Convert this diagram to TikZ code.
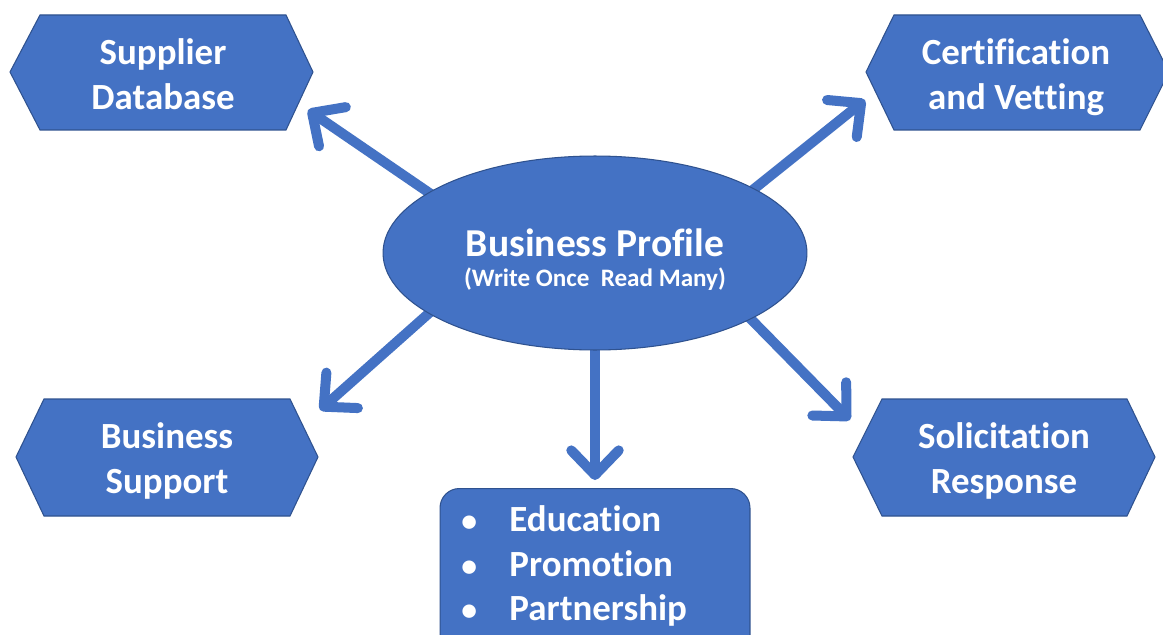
\documentclass[tikz,border=0pt]{standalone}
\usepackage{fontspec}
\setmainfont[Ligatures=NoCommon]{Carlito}
\usetikzlibrary{arrows.meta,shapes.geometric,calc}
\pgfdeclarelayer{paper}
\pgfdeclarelayer{bg}
\pgfsetlayers{paper,bg,main}
\definecolor{ofblue}{HTML}{4472C4}
\definecolor{ofedge}{HTML}{2F528F}
\begin{document}
\begin{tikzpicture}[x=0.02cm,y=-0.02cm,
  shapefill/.style={fill=ofblue, draw=ofedge, line width=0.6pt},
  lbl/.style={text=white, font=\fontsize{21}{25.5}\selectfont\bfseries, align=center, inner sep=0pt},
  arr/.style={draw=ofblue, line width=5.7pt, -{Straight Barb[length=14pt,width=27pt,round]}}]
\clip (0,0) rectangle (1163,635);
\begin{pgfonlayer}{paper}
\fill[white] (0,0) rectangle (1163,635);
\end{pgfonlayer}

% hexagons
\filldraw[shapefill] (10,72) -- (40,15) -- (286,15) -- (313,72) -- (286,130) -- (40,130) -- cycle;
\filldraw[shapefill] (866,72) -- (894,15) -- (1140,15) -- (1169,72) -- (1140,130) -- (894,130) -- cycle;
\filldraw[shapefill] (16,457) -- (44,399) -- (290,399) -- (318,457) -- (290,516) -- (44,516) -- cycle;
\filldraw[shapefill] (853,457) -- (882,399) -- (1127,399) -- (1155,457) -- (1127,516) -- (882,516) -- cycle;

\node[lbl] (sd) at (163,74) {Supplier\\Database};
\node[lbl] (cv) at (1016,77) {Certification\\and Vetting};
\node[lbl] (bs) at (167,461) {Business\\Support};
\node[lbl] (sr) at (1004,461) {Solicitation\\Response};

% centre ellipse
\node[shapefill, ellipse, minimum width=8.48cm, minimum height=3.88cm, inner sep=0pt] (bp) at (595,253) {};
\node[text=white, align=center, inner sep=0pt, font=\bfseries] (bpt) at (595,260)
  {{\fontsize{22.5}{27}\selectfont Business Profile}\\[5pt]{\fontsize{14.3}{18}\selectfont (Write Once\ \ Read Many)}};

% bottom box
\node[shapefill, rounded corners=11pt, minimum width=6.2cm, minimum height=4cm, anchor=north, inner sep=0pt] (box) at (595,488) {};
\node[text=white, align=left, inner sep=0pt, anchor=west, font=\fontsize{21}{25.5}\selectfont\bfseries] (list) at (461,566)
  {\makebox[27.4pt][l]{\fontsize{18}{18}\selectfont\textbullet}Education\\
   \makebox[27.4pt][l]{\fontsize{18}{18}\selectfont\textbullet}Promotion\\
   \makebox[27.4pt][l]{\fontsize{18}{18}\selectfont\textbullet}Partnership};

% arrow tips
\coordinate (t1) at (308,110);
\coordinate (t2) at (865,100);
\coordinate (t3) at (320,410);
\coordinate (t4) at (595,480);
\coordinate (t5) at (850,420);

\begin{pgfonlayer}{bg}
\draw[arr, shorten <=-12pt] (bp.160) -- (t1);
\draw[arr, shorten <=-12pt] (bp.22) -- (t2);
\draw[arr, shorten <=-12pt] (bp.200) -- (t3);
\draw[arr, shorten <=-12pt] (bp.south) -- (t4);
\draw[arr, shorten <=-12pt] (bp.337) -- (t5);
\end{pgfonlayer}
\end{tikzpicture}
\end{document}
